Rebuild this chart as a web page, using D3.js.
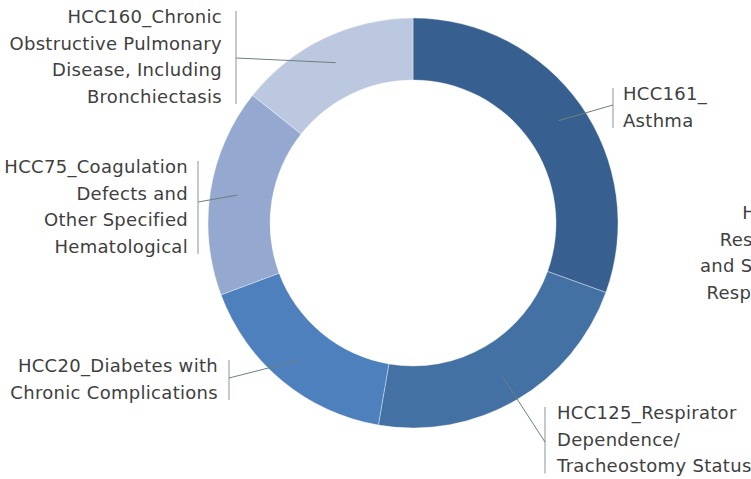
<!DOCTYPE html>
<html>
<head>
<meta charset="utf-8">
<script src="https://cdn.jsdelivr.net/npm/d3@7/dist/d3.min.js"></script>
<style>
  html, body { margin: 0; padding: 0; background: #ffffff; overflow: hidden; }
  svg { display: block; }
  text { font-family: "DejaVu Sans", sans-serif; font-size: 18px; letter-spacing: 0.3px; fill: #404040; }
</style>
</head>
<body>
<svg id="chart" width="751" height="479"></svg>
<script>
// ---- data ----
const categories = [
  "HCC161_Asthma",
  "HCC125_Respirator Dependence/Tracheostomy Status",
  "HCC20_Diabetes with Chronic Complications",
  "HCC75_Coagulation Defects and Other Specified Hematological",
  "HCC160_Chronic Obstructive Pulmonary Disease, Including Bronchiectasis",
  "HCC127_Cardio-Respiratory Failure and Shock, Including Respiratory Distress Syndromes"
];
const values = [30.5, 22.2, 16.6, 16.4, 14.3, 0];
const labelLines = [
  ["HCC161_", "Asthma"],
  ["HCC125_Respirator", "Dependence/", "Tracheostomy Status"],
  ["HCC20_Diabetes with", "Chronic Complications"],
  ["HCC75_Coagulation", "Defects and", "Other Specified", "Hematological"],
  ["HCC160_Chronic", "Obstructive Pulmonary", "Disease, Including", "Bronchiectasis"],
  ["HCC127_Cardio-", "Respiratory Failure", "and Shock, Including", "Respiratory Distress", "Syndromes"]
];
const colors = ["#375f8f", "#4471a4", "#4e80bd", "#94a8d0", "#bcc8e0", "#2c4d74"];

// ---- layout ----
const W = 751, H = 479;
const cx = 413, cy = 223, rOuter = 205, rInner = 143, rLeader = 178;
const lineH = 26.5;
// per label: side, bar x, text x, first baseline, junction y on bar
const labelLayout = [
  { side: "right", barX: 613, textX: 623, base: 100, joinY: 105 },
  { side: "right", barX: 545, textX: 557, base: 419, joinY: 442 },
  { side: "left",  barX: 229, textX: 218, base: 372, joinY: 378 },
  { side: "left",  barX: 198, textX: 188, base: 173, joinY: 202 },
  { side: "left",  barX: 236, textX: 222, base: 23,  joinY: 58 },
  { side: "cut",   barX: null, base: 219, joinY: null, lineStart: 700, refLine: 2 }
];

const svg = d3.select("#chart");
const g = svg.append("g").attr("transform", `translate(${cx},${cy})`);

const pie = d3.pie().sort(null).value(d => d).startAngle(0).endAngle(2 * Math.PI);
const arcs = pie(values);
const arc = d3.arc().innerRadius(rInner).outerRadius(rOuter);
const leaderArc = d3.arc().innerRadius(rLeader).outerRadius(rLeader);

g.selectAll("path.slice")
  .data(arcs.filter(d => d.data > 0))
  .join("path")
  .attr("class", "slice")
  .attr("d", arc)
  .attr("fill", (d) => colors[d.index])
  .attr("stroke", "#ffffff")
  .attr("stroke-width", 0.6)
  .attr("stroke-opacity", 0.6);

const lab = svg.append("g");
arcs.forEach((d, i) => {
  const L = labelLayout[i];
  const lines = labelLines[i];
  if (L.side === "cut") {
    const t = lab.append("text").attr("text-anchor", "end");
    const tmp = lab.append("text").text(lines[L.refLine]);
    const wRef = tmp.node().getComputedTextLength();
    tmp.remove();
    const xEnd = L.lineStart + wRef;
    lines.forEach((s, k) => {
      t.append("tspan").attr("x", xEnd).attr("y", L.base + k * lineH).text(s);
    });
    return;
  }
  const t = lab.append("text")
    .attr("text-anchor", L.side === "right" ? "start" : "end");
  lines.forEach((s, k) => {
    t.append("tspan").attr("x", L.textX).attr("y", L.base + k * lineH).text(s);
  });
  const barTop = L.base - 12;
  const barBot = L.base + (lines.length - 1) * lineH + 1.5;
  lab.append("line")
    .attr("x1", L.barX).attr("x2", L.barX)
    .attr("y1", barTop).attr("y2", barBot)
    .attr("stroke", "#8a9696").attr("stroke-width", 1);
  const c = leaderArc.centroid(d);
  lab.append("line")
    .attr("x1", L.barX).attr("y1", L.joinY)
    .attr("x2", cx + c[0]).attr("y2", cy + c[1])
    .attr("stroke", "#6f7f7c").attr("stroke-width", 1);
});
</script>
</body>
</html>
